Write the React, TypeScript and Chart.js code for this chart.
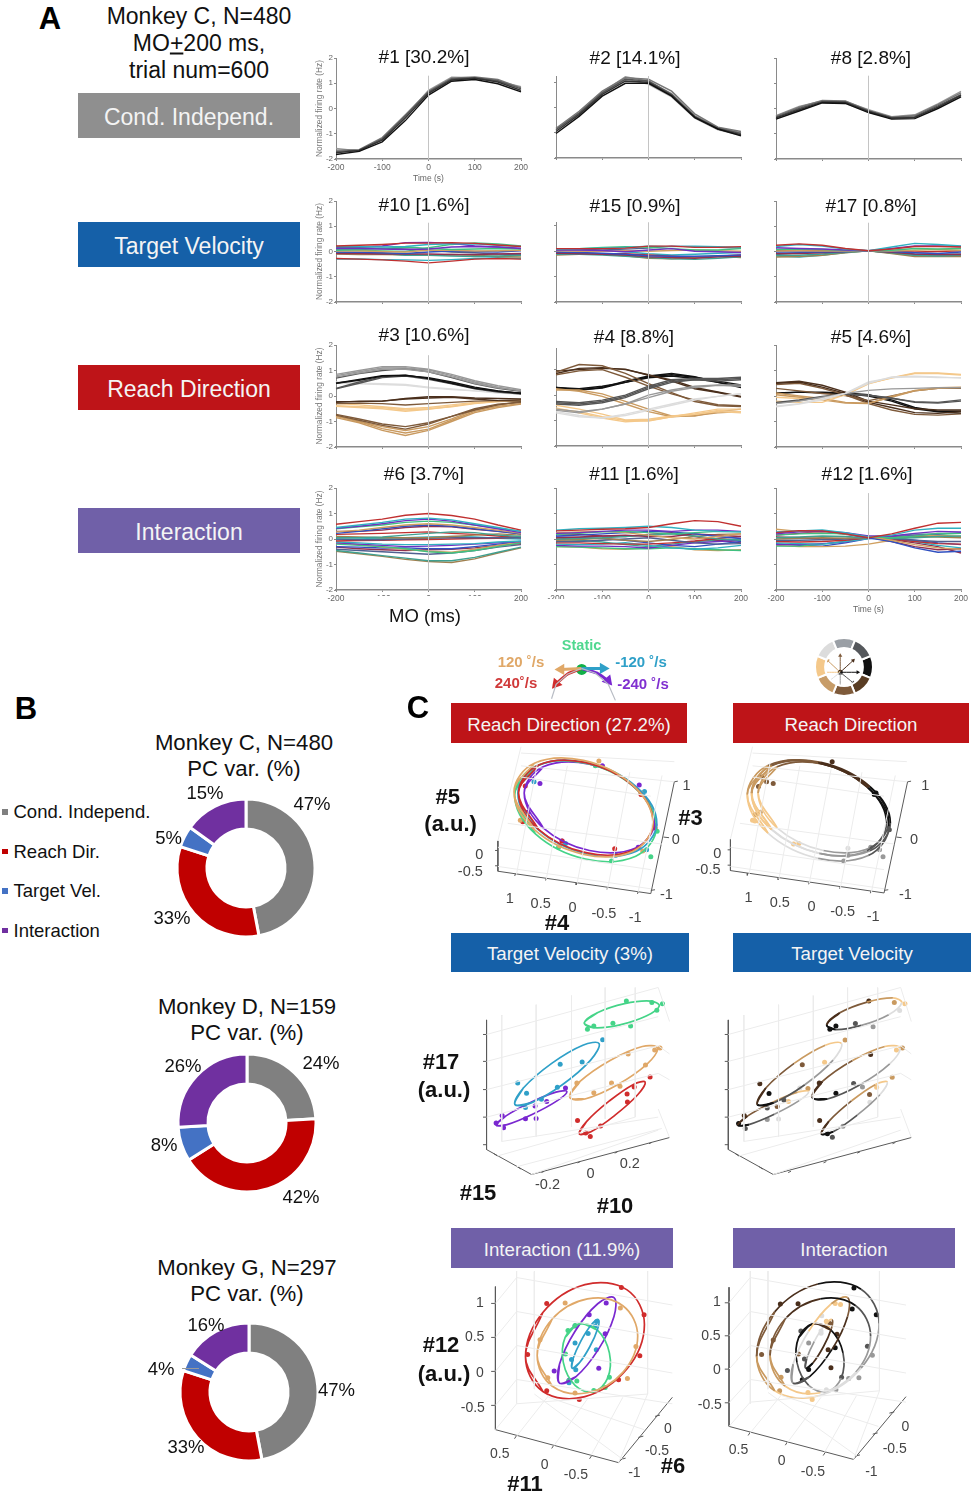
import React, { useEffect, useRef } from "react";
import { Chart, registerables } from "chart.js";
Chart.register(...registerables);

const FONT = "'Liberation Sans', Arial, sans-serif";

// ---------- Panel A data (normalized firing rate at each time point) ----------
const timePoints = [-200, -150, -100, -50, 0, 50, 100, 150, 200];
const greyShades = ["#111111", "#333333", "#555555", "#777777", "#999999", "#bbbbbb"];
const dirColors = ["#111111", "#555555", "#999999", "#dddddd", "#f4c88a", "#c99a60", "#7e5a3a", "#4a2f1c"];
const rainbow = ["#c03030", "#30b0c0", "#7030c0", "#40c080", "#d0a060", "#3050c0", "#903050", "#40a090", "#a08050", "#506090"];

const pc1 = [
  [-1.82, -1.7, -1.32, -0.48, 0.53, 1.08, 1.15, 0.98, 0.66],
  [-1.75, -1.66, -1.25, -0.38, 0.6, 1.13, 1.2, 1.05, 0.72],
  [-1.7, -1.65, -1.2, -0.3, 0.65, 1.17, 1.22, 1.1, 0.78],
  [-1.65, -1.63, -1.15, -0.25, 0.68, 1.2, 1.25, 1.15, 0.82],
  [-1.58, -1.68, -1.18, -0.3, 0.72, 1.24, 1.22, 1.08, 0.86],
  [-1.72, -1.7, -1.22, -0.35, 0.62, 1.15, 1.18, 1.12, 0.7],
];
const pc2 = [
  [-1.03, -0.35, 0.45, 0.96, 0.96, 0.45, -0.4, -0.85, -1.12],
  [-0.95, -0.28, 0.52, 1.05, 1.0, 0.48, -0.38, -0.85, -1.08],
  [-0.88, -0.22, 0.58, 1.12, 1.05, 0.52, -0.35, -0.82, -1.03],
  [-0.82, -0.15, 0.65, 1.18, 1.12, 0.65, -0.25, -0.78, -0.95],
  [-0.85, -0.2, 0.6, 1.22, 1.05, 0.55, -0.32, -0.8, -1.0],
  [-0.9, -0.25, 0.55, 1.15, 0.92, 0.42, -0.42, -0.88, -1.1],
];
const pc8 = [
  [-0.42, -0.1, 0.22, 0.2, -0.16, -0.42, -0.4, 0.0, 0.46],
  [-0.37, -0.05, 0.25, 0.24, -0.12, -0.38, -0.35, 0.05, 0.52],
  [-0.34, 0.0, 0.28, 0.26, -0.1, -0.36, -0.32, 0.1, 0.55],
  [-0.3, 0.05, 0.32, 0.3, -0.08, -0.34, -0.28, 0.15, 0.62],
  [-0.28, 0.08, 0.3, 0.28, -0.05, -0.32, -0.25, 0.18, 0.68],
  [-0.4, -0.08, 0.24, 0.2, -0.14, -0.4, -0.36, 0.04, 0.5],
];
const pc10 = [
  [0.22, 0.25, 0.28, 0.33, 0.33, 0.35, 0.32, 0.26, 0.2],
  [0.2, 0.2, 0.18, 0.2, 0.28, 0.3, 0.3, 0.25, 0.2],
  [0.12, 0.12, 0.1, 0.08, 0.1, 0.18, 0.2, 0.18, 0.12],
  [0.05, 0.08, 0.12, 0.18, 0.12, 0.08, 0.1, 0.12, 0.1],
  [0.02, 0.02, 0.0, -0.02, 0.05, 0.05, 0.02, 0.03, 0.05],
  [-0.02, -0.03, -0.05, -0.08, -0.02, 0.02, 0, -0.02, 0.03],
  [-0.08, -0.08, -0.1, -0.1, -0.1, -0.12, -0.12, -0.1, -0.08],
  [-0.05, -0.05, -0.08, -0.15, -0.15, -0.18, -0.2, -0.18, -0.15],
  [-0.1, -0.12, -0.12, -0.13, -0.15, -0.12, -0.15, -0.2, -0.22],
  [0.15, 0.15, 0.12, 0.1, 0.05, -0.02, -0.05, -0.1, -0.12],
  [-0.28, -0.3, -0.33, -0.38, -0.45, -0.38, -0.3, -0.28, -0.3],
  [-0.3, -0.3, -0.32, -0.33, -0.35, -0.32, -0.28, -0.25, -0.28],
  [0.18, 0.18, 0.22, 0.35, 0.36, 0.32, 0.22, 0.18, 0.12],
  [0.08, 0.05, 0.02, 0.0, 0.15, 0.28, 0.34, 0.3, 0.22],
];
const pc15 = [
  [0.1, 0.1, 0.1, 0.12, 0.2, 0.2, 0.15, 0.15, 0.18],
  [0.08, 0.1, 0.12, 0.15, 0.2, 0.18, 0.2, 0.18, 0.15],
  [0.05, 0.05, 0.03, -0.02, 0.05, 0.1, 0.0, -0.02, -0.05],
  [0.06, 0.1, 0.15, 0.18, 0.15, 0.1, 0.05, 0.05, 0.1],
  [0.02, 0.0, 0.0, 0.02, 0.0, 0.03, 0.05, 0.02, 0],
  [-0.03, -0.05, -0.08, -0.12, -0.18, -0.2, -0.2, -0.18, -0.15],
  [-0.08, -0.1, -0.12, -0.15, -0.22, -0.25, -0.28, -0.22, -0.2],
  [-0.12, -0.12, -0.15, -0.2, -0.25, -0.3, -0.32, -0.28, -0.22],
  [-0.15, -0.12, -0.12, -0.18, -0.28, -0.3, -0.25, -0.2, -0.25],
  [0.1, 0.08, 0.05, 0.08, 0.12, 0.2, 0.18, 0.15, 0.12],
  [-0.05, -0.08, -0.1, -0.1, -0.15, -0.2, -0.25, -0.2, -0.15],
  [0.02, 0.04, 0.02, -0.02, -0.1, -0.15, -0.12, -0.08, -0.05],
];
const pc17 = [
  [0.25, 0.3, 0.25, 0.12, 0.03, 0.1, 0.2, 0.2, 0.18],
  [0.2, 0.28, 0.22, 0.1, 0.03, 0.18, 0.32, 0.28, 0.22],
  [0.15, 0.12, 0.1, 0.06, 0.03, 0.12, 0.22, 0.22, 0.2],
  [0.08, 0.1, 0.08, 0.05, 0.03, 0.05, 0.12, 0.1, 0.12],
  [0.02, 0.03, 0.02, 0.02, 0.03, 0.02, 0.05, 0.08, 0.05],
  [-0.02, -0.02, -0.02, 0, 0.03, 0, -0.05, -0.08, -0.02],
  [-0.08, -0.08, -0.05, 0, 0.03, -0.03, -0.1, -0.12, -0.12],
  [-0.15, -0.15, -0.1, -0.03, 0.03, -0.05, -0.15, -0.18, -0.15],
  [-0.22, -0.2, -0.15, -0.05, 0.03, -0.08, -0.2, -0.2, -0.2],
  [-0.12, -0.05, -0.02, 0, 0.03, -0.05, -0.12, -0.12, -0.1],
  [0.05, 0.05, 0.05, 0.05, 0.03, 0.0, -0.02, 0.0, 0.03],
  [-0.18, -0.22, -0.15, -0.04, 0.03, -0.06, -0.15, -0.15, -0.15],
];
const pc3 = [
  [0.8, 0.95, 1.1, 1.1, 1.02, 0.8, 0.55, 0.35, 0.2],
  [0.85, 1.0, 1.15, 1.15, 1.05, 0.85, 0.6, 0.4, 0.25],
  [0.75, 0.9, 1.05, 1.05, 0.95, 0.75, 0.5, 0.32, 0.22],
  [0.7, 0.88, 1.0, 1.08, 0.95, 0.72, 0.48, 0.3, 0.18],
  [0.5, 0.62, 0.78, 0.8, 0.72, 0.55, 0.35, 0.2, 0.1],
  [0.5, 0.65, 0.8, 0.82, 0.68, 0.5, 0.3, 0.18, 0.12],
  [0.28, 0.5, 0.72, 0.78, 0.65, 0.48, 0.28, 0.15, 0.08],
  [0.3, 0.55, 0.75, 0.82, 0.7, 0.5, 0.32, 0.2, 0.1],
  [0.55, 0.5, 0.48, 0.45, 0.35, 0.28, 0.2, 0.15, 0.1],
  [0.5, 0.48, 0.45, 0.42, 0.32, 0.25, 0.2, 0.12, 0.08],
  [-0.22, -0.22, -0.2, -0.1, -0.03, -0.03, -0.08, -0.1, -0.12],
  [-0.25, -0.2, -0.2, -0.12, -0.08, -0.05, -0.12, -0.18, -0.2],
  [-0.3, -0.28, -0.3, -0.35, -0.3, -0.25, -0.2, -0.18, -0.15],
  [-0.38, -0.42, -0.45, -0.55, -0.5, -0.42, -0.3, -0.22, -0.2],
  [-0.4, -0.45, -0.5, -0.6, -0.52, -0.4, -0.28, -0.22, -0.15],
  [-0.3, -0.35, -0.42, -0.5, -0.45, -0.35, -0.25, -0.2, -0.18],
  [-0.72, -0.9, -1.1, -1.2, -1.05, -0.8, -0.5, -0.32, -0.25],
  [-0.75, -0.95, -1.15, -1.3, -1.1, -0.8, -0.55, -0.35, -0.22],
  [-0.78, -1, -1.28, -1.45, -1.3, -0.95, -0.6, -0.4, -0.3],
  [-0.85, -1.05, -1.35, -1.55, -1.35, -1, -0.65, -0.45, -0.32],
  [-0.8, -1, -1.2, -1.35, -1.2, -0.9, -0.55, -0.35, -0.25],
];
const pc3Dirs = [2, 2, 2, 1, 0, 0, 1, 1, 3, 3, 7, 7, 6, 4, 4, 4, 6, 6, 5, 5, 5];
const pc4 = [
  [-0.65, -0.8, -0.9, -0.75, -0.55, -0.35, -0.15, -0.05, 0.05],
  [-0.7, -0.85, -0.9, -0.8, -0.6, -0.4, -0.2, -0.05, 0.05],
  [-0.55, -0.65, -0.55, -0.35, -0.0, 0.2, 0.35, 0.4, 0.4],
  [-0.6, -0.7, -0.55, -0.35, -0.1, 0.15, 0.3, 0.38, 0.35],
  [-0.3, -0.35, -0.25, -0.05, 0.3, 0.55, 0.6, 0.6, 0.65],
  [-0.25, -0.3, -0.2, 0.0, 0.35, 0.6, 0.65, 0.65, 0.7],
  [-0.35, -0.4, -0.3, -0.1, 0.25, 0.5, 0.6, 0.55, 0.6],
  [-0.55, -0.65, -0.85, -1, -1.02, -0.85, -0.75, -0.6, -0.65],
  [-0.5, -0.7, -0.9, -1.05, -1, -0.85, -0.7, -0.55, -0.55],
  [-0.4, -0.55, -0.75, -0.98, -0.95, -0.82, -0.75, -0.65, -0.7],
  [0.2, 0.2, 0.05, -0.25, -0.55, -0.82, -0.82, -0.65, -0.55],
  [0.25, 0.15, -0.05, -0.35, -0.65, -0.85, -0.8, -0.7, -0.65],
  [0.9, 1.2, 1.15, 0.85, 0.45, 0.1, -0.25, -0.42, -0.45],
  [0.8, 0.95, 1.0, 0.7, 0.35, 0.05, -0.2, -0.38, -0.42],
  [0.85, 1.05, 1.08, 1.0, 0.8, 0.55, 0.25, 0.1, -0.08],
  [0.95, 1.0, 1.05, 1.02, 0.78, 0.6, 0.3, 0.12, -0.05],
  [0.3, 0.25, 0.35, 0.5, 0.72, 0.8, 0.7, 0.55, 0.4],
  [0.3, 0.2, 0.3, 0.55, 0.75, 0.85, 0.72, 0.5, 0.3],
  [0.28, 0.2, 0.28, 0.5, 0.68, 0.75, 0.65, 0.5, 0.35],
];
const pc4Dirs = [3, 3, 2, 2, 1, 1, 1, 4, 4, 4, 5, 5, 6, 6, 7, 7, 0, 0, 0];
const pc5 = [
  [-0.4, -0.3, -0.1, 0.1, 0.5, 0.75, 0.78, 0.75, 0.7],
  [-0.42, -0.32, -0.15, 0.1, 0.55, 0.72, 0.75, 0.72, 0.72],
  [-0.3, -0.2, -0.05, 0.1, 0.22, 0.28, 0.3, 0.33, 0.33],
  [-0.25, -0.15, -0.02, 0.08, 0.03, -0.1, -0.22, -0.25, -0.15],
  [-0.28, -0.18, -0.05, 0.08, 0.03, -0.08, -0.25, -0.28, -0.2],
  [-0.2, -0.25, -0.25, 0.05, 0.5, 0.7, 0.88, 0.88, 0.82],
  [-0.05, -0.1, -0.15, 0.05, 0.48, 0.72, 0.9, 0.9, 0.85],
  [0.12, 0.0, -0.1, -0.25, -0.28, -0.05, 0.2, 0.3, 0.33],
  [0.05, -0.05, -0.15, -0.28, -0.3, -0.02, 0.22, 0.33, 0.35],
  [0.3, 0.2, 0.1, 0.02, -0.18, 0.0, 0.2, 0.3, 0.3],
  [0.52, 0.58, 0.42, 0.15, -0.2, -0.35, -0.5, -0.55, -0.55],
  [0.5, 0.55, 0.35, 0.1, -0.25, -0.45, -0.65, -0.68, -0.62],
  [0.45, 0.5, 0.3, 0.05, -0.3, -0.55, -0.72, -0.75, -0.7],
  [0.12, 0.15, 0.15, 0.12, 0.05, -0.15, -0.45, -0.6, -0.6],
  [0.1, 0.15, 0.12, 0.1, 0.0, -0.2, -0.5, -0.62, -0.68],
];
const pc5Dirs = [3, 3, 2, 1, 1, 4, 4, 5, 5, 6, 7, 7, 6, 0, 0];
const pc6 = [
  [0.58, 0.68, 0.78, 0.93, 1.0, 0.92, 0.78, 0.55, 0.35],
  [0.45, 0.55, 0.65, 0.78, 0.82, 0.75, 0.6, 0.45, 0.3],
  [0.42, 0.5, 0.6, 0.72, 0.78, 0.7, 0.55, 0.4, 0.25],
  [0.4, 0.48, 0.55, 0.65, 0.7, 0.65, 0.55, 0.42, 0.3],
  [0.28, 0.35, 0.45, 0.55, 0.6, 0.55, 0.45, 0.35, 0.22],
  [0.22, 0.3, 0.4, 0.5, 0.55, 0.5, 0.4, 0.3, 0.2],
  [0.3, 0.3, 0.35, 0.45, 0.5, 0.48, 0.38, 0.3, 0.2],
  [0.05, 0.05, 0.08, 0.15, 0.22, 0.28, 0.25, 0.15, 0.1],
  [0.1, 0.08, 0.05, 0.05, 0.05, 0.1, 0.15, 0.2, 0.15],
  [0.0, -0.03, -0.03, 0.0, 0.03, 0.05, 0.05, 0.05, 0.05],
  [-0.08, -0.06, -0.05, -0.03, -0.02, 0, 0.02, 0.03, 0.08],
  [-0.12, -0.15, -0.2, -0.22, -0.22, -0.2, -0.18, -0.12, -0.08],
  [-0.15, -0.2, -0.25, -0.3, -0.28, -0.25, -0.2, -0.15, -0.1],
  [-0.2, -0.25, -0.3, -0.38, -0.5, -0.55, -0.45, -0.3, -0.15],
  [-0.15, -0.22, -0.32, -0.4, -0.48, -0.52, -0.4, -0.25, -0.12],
  [-0.3, -0.32, -0.35, -0.35, -0.38, -0.38, -0.3, -0.2, -0.12],
  [-0.32, -0.38, -0.42, -0.45, -0.42, -0.4, -0.35, -0.25, -0.18],
  [-0.45, -0.55, -0.65, -0.75, -0.85, -0.85, -0.72, -0.52, -0.32],
  [-0.48, -0.58, -0.68, -0.8, -0.88, -0.92, -0.78, -0.55, -0.35],
  [-0.4, -0.45, -0.5, -0.55, -0.6, -0.55, -0.45, -0.32, -0.22],
  [0.18, 0.2, 0.22, 0.25, 0.28, 0.22, 0.18, 0.12, 0.05],
  [-0.02, 0.0, 0.03, 0.05, 0.08, 0.1, 0.08, 0.03, 0],
];
const pc11 = [
  [0.32, 0.35, 0.38, 0.4, 0.45, 0.6, 0.72, 0.68, 0.5],
  [0.35, 0.4, 0.42, 0.45, 0.5, 0.45, 0.35, 0.3, 0.28],
  [0.22, 0.25, 0.3, 0.35, 0.35, 0.3, 0.35, 0.35, 0.3],
  [0.18, 0.22, 0.28, 0.3, 0.25, 0.2, 0.25, 0.3, 0.28],
  [0.25, 0.28, 0.3, 0.25, 0.15, 0.05, 0, 0.1, 0.2],
  [0.12, 0.15, 0.2, 0.25, 0.3, 0.28, 0.2, 0.1, 0.02],
  [0.05, 0.08, 0.12, 0.15, 0.1, 0.1, 0.2, 0.15, 0.1],
  [0.0, 0.03, 0.05, 0.1, 0.15, 0.2, 0.12, 0.0, -0.05],
  [-0.05, -0.02, 0.03, -0.05, -0.1, -0.02, 0.1, 0.18, 0.2],
  [-0.1, -0.1, -0.05, 0, 0.05, -0.05, -0.15, -0.2, -0.18],
  [-0.15, -0.15, -0.18, -0.2, -0.2, -0.15, -0.08, 0.02, 0.1],
  [-0.2, -0.22, -0.2, -0.15, -0.25, -0.35, -0.4, -0.35, -0.25],
  [-0.25, -0.28, -0.28, -0.3, -0.35, -0.25, -0.15, -0.1, -0.05],
  [-0.3, -0.32, -0.35, -0.38, -0.38, -0.35, -0.38, -0.42, -0.45],
  [-0.3, -0.32, -0.38, -0.4, -0.35, -0.3, -0.42, -0.45, -0.42],
  [0.08, 0.05, 0.02, -0.05, -0.15, -0.25, -0.3, -0.2, -0.1],
  [0.2, 0.18, 0.12, 0.1, 0.18, 0.25, 0.1, -0.05, -0.15],
  [-0.02, -0.05, -0.12, -0.22, -0.3, -0.2, -0.1, -0.05, 0],
];
const pc12 = [
  [0.25, 0.33, 0.32, 0.2, 0.05, 0.2, 0.42, 0.62, 0.65],
  [0.28, 0.32, 0.35, 0.25, 0.08, 0.15, 0.35, 0.42, 0.42],
  [0.2, 0.28, 0.3, 0.25, 0.12, 0.12, 0.22, 0.3, 0.28],
  [0.15, 0.2, 0.22, 0.2, 0.1, 0.05, 0.12, 0.22, 0.22],
  [0.38, 0.3, 0.25, 0.2, 0.1, -0.05, -0.22, -0.35, -0.4],
  [0.25, 0.3, 0.32, 0.2, 0.05, -0.1, -0.35, -0.52, -0.48],
  [0.15, 0.22, 0.3, 0.18, 0.08, -0.1, -0.3, -0.42, -0.38],
  [0.05, 0.08, 0.12, 0.1, 0.05, 0.02, 0.05, 0.1, 0.12],
  [0, 0.03, 0.05, 0.03, 0.05, 0.05, 0.1, 0.08, 0.05],
  [-0.05, -0.05, -0.03, 0, 0.05, 0.02, -0.05, -0.1, -0.1],
  [-0.1, -0.12, -0.1, -0.05, 0.05, 0, -0.1, -0.18, -0.2],
  [-0.15, -0.18, -0.2, -0.1, 0.02, 0.03, -0.1, -0.25, -0.35],
  [-0.22, -0.22, -0.18, -0.12, 0.05, 0.08, 0.15, 0.2, 0.25],
  [-0.28, -0.28, -0.2, -0.1, 0.03, 0.1, 0.2, 0.18, 0.22],
  [-0.25, -0.3, -0.3, -0.28, -0.2, -0.05, 0.12, 0.15, 0.1],
  [-0.18, -0.25, -0.28, -0.15, 0.02, 0.05, -0.05, -0.15, -0.22],
  [0.08, 0.05, 0.0, 0.02, 0.05, -0.02, -0.15, -0.3, -0.55],
];

// ---------- Panel B data ----------
const donutLabels = ["Cond. Independ.", "Reach Dir.", "Target Vel.", "Interaction"];
const donutColors = ["#808080", "#c00000", "#4472c4", "#7030a0"];
const monkeyC = [47, 33, 5, 15];
const monkeyD = [24, 42, 8, 26];
const monkeyG = [47, 33, 4, 16];

// ---------- Panel C data: points read in the projected plane of each 3-D view ----------
type P = number[];
const velColors = ["#e0a868", "#d02c2c", "#2fa0c8", "#45d488", "#7a28d0"];

const reachLeft: P[][] = [
  [[278, 486], [336, 397], [476, 388], [616, 465], [674, 584], [616, 673], [476, 682], [336, 605]],
  [[291, 489], [347, 403], [483, 395], [619, 469], [675, 583], [619, 669], [483, 677], [347, 603]],
  [[289, 491], [347, 404], [487, 395], [627, 471], [685, 585], [627, 672], [487, 681], [347, 605]],
  [[280, 497], [339, 406], [482, 397], [625, 476], [684, 597], [625, 688], [482, 697], [339, 618]],
  [[307, 490], [361, 408], [493, 400], [625, 471], [679, 580], [625, 662], [493, 670], [361, 599]],
];
const reachLeftDots: P[][] = [
  [[520, 390], [322, 440], [296, 575], [408, 655], [645, 672], [640, 490]],
  [[310, 468], [640, 495], [303, 580], [415, 640], [565, 665], [680, 600]],
  [[335, 455], [650, 485], [302, 558], [425, 648], [568, 685], [656, 668]],
  [[510, 405], [300, 575], [405, 660], [556, 703], [668, 690], [686, 610]],
  [[352, 460], [530, 405], [635, 465], [317, 550], [415, 640], [632, 660], [680, 590]],
];
const reachRight: P[][] = [
  [[943, 495], [1002, 404], [1145, 395], [1288, 474], [1347, 595], [1288, 686], [1145, 695], [1002, 616]],
  [[956, 491], [1012, 405], [1148, 397], [1284, 471], [1340, 585], [1284, 671], [1148, 679], [1012, 605]],
  [[955, 490], [1013, 403], [1153, 394], [1293, 470], [1351, 584], [1293, 671], [1153, 680], [1013, 604]],
  [[974, 490], [1028, 408], [1160, 400], [1292, 471], [1346, 580], [1292, 662], [1160, 670], [1028, 599]],
];
const reachRightDirs = [5, 6, 7, 0, 1, 2, 3, 4];
const reachRightDots: P[] = [
  [1185, 392, 7], [985, 440, 6], [975, 470, 6], [998, 455, 6], [1017, 460, 6], [966, 558, 5], [980, 550, 5],
  [958, 575, 4], [965, 578, 4], [1075, 650, 4], [1090, 648, 4], [1230, 663, 3], [1230, 685, 2], [1320, 668, 2],
  [1330, 690, 2], [1218, 703, 2], [1305, 495, 0], [1310, 490, 0], [1348, 605, 1], [1295, 660, 2],
];

const targetLeft: P[][] = [
  [[440, 504], [469, 455], [554, 390], [645, 347], [688, 352], [659, 401], [574, 466], [483, 509]],
  [[467, 617], [488, 578], [552, 515], [620, 464], [653, 457], [632, 496], [568, 559], [500, 610]],
  [[285, 526], [309, 475], [389, 399], [477, 343], [523, 338], [499, 389], [419, 465], [331, 521]],
  [[481, 274], [518, 243], [595, 215], [668, 207], [693, 222], [656, 253], [579, 281], [506, 289]],
  [[232, 590], [259, 562], [329, 520], [401, 488], [432, 486], [405, 514], [335, 556], [263, 588]],
];
const targetLeftDots: P[][] = [
  [[460, 460], [508, 490], [558, 460], [582, 470], [605, 370], [654, 404], [680, 358], [695, 352]],
  [[462, 575], [485, 614], [498, 625], [527, 592], [603, 518], [602, 494], [622, 472], [667, 441]],
  [[293, 460], [318, 491], [315, 535], [360, 510], [405, 473], [413, 402], [475, 395], [533, 326]],
  [[490, 294], [508, 284], [562, 275], [612, 284], [600, 207], [672, 211], [702, 215], [686, 235]],
  [[249, 560], [232, 583], [253, 598], [315, 570], [345, 569], [342, 531], [375, 517], [428, 475]],
];
const targetRight: P[][] = [
  [[1166, 280], [1203, 243], [1280, 210], [1353, 197], [1378, 212], [1341, 249], [1264, 282], [1191, 295]],
  [[970, 526], [994, 475], [1074, 399], [1162, 343], [1208, 338], [1184, 389], [1104, 465], [1016, 521]],
  [[1125, 504], [1154, 455], [1239, 390], [1330, 347], [1373, 352], [1344, 401], [1259, 466], [1168, 509]],
  [[1151, 617], [1172, 578], [1236, 515], [1304, 464], [1337, 457], [1316, 496], [1252, 559], [1184, 610]],
  [[915, 590], [942, 562], [1012, 520], [1084, 488], [1115, 486], [1088, 514], [1018, 556], [946, 588]],
];
const targetRightDirs = [7, 6, 5, 4, 3, 2, 1, 0];
const targetRightDots: P[] = [
  [1192, 284, 0], [1247, 276, 1], [1297, 286, 2], [1175, 294, 0], [1285, 207, 7], [1357, 211, 5], [1387, 215, 4], [1372, 236, 3],
  [977, 462, 7], [1003, 492, 0], [998, 537, 1], [1045, 512, 1], [1090, 475, 3], [1097, 403, 6], [1160, 396, 4], [1218, 327, 5],
  [1145, 460, 7], [1192, 491, 0], [1242, 461, 1], [1267, 472, 2], [1290, 372, 7], [1363, 358, 4], [1380, 352, 5],
  [1146, 575, 7], [1168, 616, 0], [1182, 627, 1], [1212, 593, 2], [1288, 519, 3], [1287, 495, 6], [1307, 473, 4], [1351, 442, 5],
  [933, 560, 7], [917, 585, 0], [936, 600, 1], [998, 572, 2], [1030, 571, 3], [1026, 532, 6], [1058, 517, 4], [1113, 477, 5],
];

const interLeft: P[][] = [
  [[348, 391], [390, 279], [490, 216], [590, 237], [632, 331], [590, 443], [490, 506], [390, 485]],
  [[315, 395], [364, 258], [483, 172], [602, 188], [651, 295], [602, 432], [483, 518], [364, 502]],
  [[447, 430], [449, 402], [471, 347], [501, 296], [521, 280], [519, 308], [497, 363], [467, 414]],
  [[467, 293], [519, 313], [552, 383], [547, 461], [507, 503], [455, 483], [422, 413], [427, 335]],
  [[411, 476], [411, 418], [455, 316], [519, 231], [565, 212], [565, 270], [521, 372], [457, 457]],
];
const interLeftDots: P[][] = [
  [[356, 342], [427, 229], [583, 244], [627, 363], [603, 462], [455, 507], [378, 460]],
  [[321, 388], [375, 230], [586, 181], [650, 265], [638, 392], [578, 466], [467, 527], [375, 500]],
  [[457, 435], [445, 403], [455, 352], [492, 323], [515, 373], [512, 300], [516, 286], [438, 475]],
  [[428, 386], [435, 314], [455, 298], [552, 458], [540, 490], [508, 499], [437, 470], [460, 470]],
  [[396, 439], [438, 467], [522, 430], [540, 324], [495, 265], [543, 229], [455, 300]],
];
const interRight: P[][] = [
  [[968, 393], [1019, 256], [1141, 170], [1263, 186], [1314, 293], [1263, 430], [1141, 516], [1019, 500]],
  [[1006, 391], [1048, 279], [1148, 216], [1248, 237], [1290, 331], [1248, 443], [1148, 506], [1048, 485]],
  [[1071, 476], [1071, 418], [1115, 316], [1179, 231], [1225, 212], [1225, 270], [1181, 372], [1117, 457]],
  [[1127, 293], [1179, 313], [1212, 383], [1207, 461], [1167, 503], [1115, 483], [1082, 413], [1087, 335]],
  [[1107, 430], [1109, 402], [1131, 347], [1161, 296], [1181, 280], [1179, 308], [1157, 363], [1127, 414]],
];
const interRightDirs = [
  [6, 7, 0, 1, 2, 3, 4, 5],
  [6, 7, 0, 1, 2, 3, 4, 5],
  [2, 3, 4, 5, 6, 7, 0, 1],
  [7, 0, 1, 2, 2, 1, 0, 0],
  [1, 2, 3, 4, 6, 7, 7, 0],
];
const interRightDots: P[] = [
  [982, 388, 6], [1035, 232, 7], [1243, 182, 0], [1306, 265, 0], [1281, 362, 1], [1257, 460, 2], [1015, 343, 6], [1085, 231, 7],
  [1238, 247, 0], [1208, 458, 1], [1295, 390, 2], [1037, 458, 5], [1033, 500, 5], [1113, 505, 4], [1125, 527, 4], [1165, 497, 3],
  [1192, 497, 2], [1228, 462, 2], [1055, 437, 1], [1097, 466, 0], [1115, 434, 0], [1178, 429, 7], [1103, 402, 1], [1086, 386, 6],
  [1115, 352, 2], [1093, 315, 1], [1152, 268, 3], [1150, 322, 3], [1170, 373, 7], [1190, 367, 0], [1195, 325, 7], [1175, 292, 6],
  [1165, 285, 4], [1168, 303, 4], [1205, 233, 4], [1190, 230, 4], [1150, 315, 3],
];

// 3-D box lines, [x1, y1, x2, y2]
const reachGrid: P[] = [
  [232, 640, 298, 345], [298, 365, 735, 392], [298, 405, 735, 455], [298, 440, 668, 500], [232, 720, 668, 790],
  [285, 745, 345, 395], [370, 760, 430, 405], [458, 772, 520, 415], [545, 790, 608, 425], [632, 800, 700, 435],
  [232, 660, 668, 730], [260, 585, 700, 650],
];
const reachAxes: P[] = [
  [232, 640, 232, 735], [232, 735, 668, 805], [668, 805, 735, 455],
  [282, 743, 280, 750], [370, 757, 368, 764], [457, 771, 455, 778], [545, 785, 543, 792], [632, 799, 630, 806],
  [720, 630, 704, 628], [735, 455, 745, 453], [668, 795, 680, 793], [232, 670, 224, 670], [232, 718, 224, 718],
];
const reachGridR: P[] = [
  [895, 635, 958, 345], [958, 365, 1398, 392], [958, 405, 1398, 455], [958, 440, 1333, 500], [895, 720, 1333, 790],
  [948, 745, 1008, 395], [1033, 760, 1093, 405], [1120, 772, 1182, 415], [1208, 790, 1270, 425], [1297, 800, 1365, 435],
  [895, 660, 1333, 730], [922, 585, 1362, 650],
];
const reachAxesR: P[] = [
  [895, 635, 895, 733], [895, 733, 1333, 803], [1333, 803, 1400, 455],
  [945, 741, 943, 748], [1033, 755, 1031, 762], [1120, 769, 1118, 776], [1208, 783, 1206, 790], [1296, 797, 1294, 804],
  [1383, 630, 1368, 628], [1400, 455, 1410, 453], [1333, 795, 1345, 793], [895, 668, 887, 668], [895, 716, 887, 716],
];
const targetGrid: P[] = [
  [248, 250, 248, 640], [345, 218, 345, 625], [445, 190, 445, 595], [540, 165, 540, 570], [625, 165, 625, 565],
  [205, 310, 690, 165], [205, 393, 690, 255], [205, 480, 690, 345], [205, 565, 690, 430],
  [690, 165, 722, 270], [690, 345, 722, 370], [690, 430, 722, 450], [690, 540, 722, 628], [248, 640, 690, 565],
  [332, 742, 690, 605], [235, 685, 625, 565], [290, 718, 700, 600],
];
const targetAxes: P[] = [
  [205, 265, 205, 665], [205, 665, 332, 742], [332, 742, 722, 628],
  [205, 310, 195, 310], [205, 393, 195, 393], [205, 480, 195, 480], [205, 565, 195, 565], [205, 650, 195, 650],
  [226, 678, 236, 685], [292, 718, 302, 725], [368, 732, 360, 736], [470, 702, 462, 706], [575, 672, 567, 676], [672, 643, 664, 647],
];
const targetGridR: P[] = [
  [932, 250, 932, 640], [1030, 218, 1030, 625], [1128, 190, 1128, 595], [1225, 165, 1225, 570], [1310, 165, 1310, 565],
  [888, 310, 1375, 165], [888, 393, 1375, 255], [888, 480, 1375, 345], [888, 565, 1375, 430],
  [1375, 165, 1405, 270], [1375, 345, 1405, 370], [1375, 430, 1405, 450], [1375, 540, 1405, 628], [932, 640, 1375, 565],
  [1015, 742, 1375, 605], [918, 685, 1310, 565],
];
const targetAxesR: P[] = [
  [888, 265, 888, 665], [888, 665, 1015, 742], [1015, 742, 1405, 628],
  [888, 310, 878, 310], [888, 393, 878, 393], [888, 480, 878, 480], [888, 565, 878, 565], [888, 650, 878, 650],
  [908, 678, 918, 685], [975, 718, 985, 725], [1065, 732, 1057, 736], [1165, 702, 1157, 706], [1260, 672, 1252, 676], [1360, 643, 1352, 647],
];
const interGrid: P[] = [
  [290, 130, 290, 540], [340, 130, 340, 495], [660, 130, 660, 510], [230, 230, 290, 150], [290, 150, 730, 235],
  [230, 335, 290, 255], [290, 255, 730, 340], [230, 440, 290, 360], [290, 360, 730, 445], [230, 545, 290, 465], [290, 465, 730, 540],
  [230, 620, 290, 540], [290, 540, 660, 510], [660, 510, 578, 722], [290, 640, 380, 515], [395, 670, 490, 525], [500, 700, 590, 520],
  [590, 712, 340, 510], [650, 620, 380, 520],
];
const interAxes: P[] = [
  [230, 178, 230, 620], [230, 620, 578, 722], [578, 722, 730, 520],
  [230, 230, 218, 230], [230, 335, 218, 335], [230, 440, 218, 440], [230, 545, 218, 545],
  [290, 638, 284, 648], [395, 668, 389, 678], [502, 700, 496, 710], [598, 708, 584, 712], [648, 640, 634, 644], [695, 575, 681, 579],
];
const interGridR: P[] = [
  [950, 130, 950, 540], [1000, 130, 1000, 495], [1315, 130, 1315, 500], [890, 228, 950, 150], [950, 150, 1390, 235],
  [890, 330, 950, 255], [950, 255, 1390, 340], [890, 433, 950, 360], [950, 360, 1390, 445], [890, 537, 950, 465], [950, 465, 1390, 535],
  [890, 610, 950, 535], [950, 535, 1315, 500], [1315, 500, 1242, 712], [950, 630, 1040, 510], [1055, 660, 1150, 520], [1160, 690, 1250, 515],
  [1252, 702, 1000, 505], [1312, 610, 1040, 515],
];
const interAxesR: P[] = [
  [890, 180, 890, 610], [890, 610, 1242, 712], [1242, 712, 1390, 518],
  [890, 228, 878, 228], [890, 330, 878, 330], [890, 433, 878, 433], [890, 537, 878, 537],
  [950, 628, 944, 638], [1055, 658, 1049, 668], [1162, 690, 1156, 700], [1260, 698, 1246, 702], [1310, 630, 1296, 634], [1357, 565, 1343, 569],
];

// Legend icons above panel C
const arcLeft: P[] = [[385, 195], [398, 150], [430, 118], [470, 100]];
const arcRight: P[] = [[470, 100], [510, 115], [547, 150], [567, 200]];
const arrowTan: P[] = [[470, 100], [412, 103]];
const arrowTeal: P[] = [[470, 100], [532, 100]];
const arrowRed: P[] = [[470, 100], [430, 118], [398, 148]];
const arrowPurple: P[] = [[470, 100], [515, 115], [546, 138]];
const arrowRot = [-90, 90, 220, 140];
const wheelSpokes: P[] = [[1258, 112], [1245, 145], [1208, 165], [1170, 145], [1160, 112], [1172, 75], [1208, 60], [1245, 75]];
const wheelCentre = [1208, 112];
const wheelRot = [90, 135, 180, 225, 270, 315, 0, 45];
const wheelSlices = [1, 1, 1, 1, 1, 1, 1, 1];
const wheelColors = ["#111111", "#5a3d24", "#7e5a3a", "#c79c68", "#f4c88a", "#dcdcdc", "#9a9fa5", "#55585c"];

// ---------- Generic canvas ----------
function Canvas({ make, left, top, width, height, z }: any) {
  const ref = useRef<HTMLCanvasElement>(null);
  useEffect(() => {
    const chart = new Chart(ref.current as HTMLCanvasElement, make());
    return () => chart.destroy();
  }, []);
  return (
    <canvas ref={ref} width={width} height={height}
      style={{ position: "absolute", left, top, width, height, display: "block", zIndex: z || 1 }} />
  );
}

// ---------- Panel A ----------
const PAD_L = 21, PAD_T = 6, PAD_R = 12, PAD_B = 25;
function FiringPlot({ x0, x1, yTop, yBot, lines, colors, yMax = 2, stemTop, yLabels, xLabels, xTitle }: any) {
  const unit = (yBot - yTop) / 4;
  const areaTop = yBot - (yMax + 2) * unit;
  const width = Math.round(x1 - x0 + PAD_L + PAD_R);
  const height = Math.round(yBot - areaTop + PAD_T + PAD_B);
  const make = () => ({
    type: "line",
    data: {
      datasets: [
        { data: [{ x: 0, y: -2 }, { x: 0, y: stemTop }], borderColor: "#c4c4c4", borderWidth: 1, pointRadius: 0 },
        ...lines.map((ln: number[], i: number) => ({
          data: ln.map((v, k) => ({ x: timePoints[k], y: v })),
          borderColor: colors[i % colors.length],
          borderWidth: 1.4,
          pointRadius: 0,
          tension: 0,
          clip: false,
        })),
      ],
    },
    options: {
      animation: false, responsive: false, events: [],
      layout: { padding: { top: PAD_T, right: PAD_R, left: 0, bottom: 0 } },
      plugins: { legend: { display: false }, tooltip: { enabled: false } },
      scales: {
        x: {
          type: "linear", min: -200, max: 200,
          afterFit: (s: any) => { s.height = PAD_B; },
          border: { color: "#8a8a8a", width: 1.5 },
          grid: { drawOnChartArea: false, tickLength: 2, color: "#8a8a8a" },
          ticks: { stepSize: 100, display: !!xLabels, autoSkip: false, maxRotation: 0, padding: 2, color: "#666", font: { family: FONT, size: 8.5 } },
          title: { display: !!xTitle, text: "Time (s)", color: "#666", font: { family: FONT, size: 8.5 }, padding: { top: 1, bottom: 0 } },
        },
        y: {
          type: "linear", min: -2, max: yMax,
          afterFit: (s: any) => { s.width = PAD_L; },
          border: { color: "#8a8a8a", width: 1 },
          grid: { drawOnChartArea: false, tickLength: 2, color: "#8a8a8a" },
          ticks: { stepSize: 1, includeBounds: false, display: !!yLabels, padding: 1, color: "#666", font: { family: FONT, size: 8 } },
          title: { display: !!yLabels, text: "Normalized firing rate (Hz)", color: "#777", font: { family: FONT, size: 8.3 }, padding: { top: 0, bottom: 0 } },
        },
      },
    },
  });
  return <Canvas make={make} left={x0 - PAD_L} top={Math.round(areaTop) - PAD_T} width={width} height={height} />;
}

// ---------- Panel B ----------
function Donut({ cx, cy, values, colors, radius, cut, rotation = 0, border = 3, z }: any) {
  const size = Math.ceil(radius * 2 + 10);
  const make = () => ({
    type: "doughnut",
    data: { labels: donutLabels, datasets: [{ data: values, backgroundColor: colors, borderColor: "#fff", borderWidth: border, borderAlign: "center" }] },
    options: {
      animation: false, responsive: false, events: [], rotation,
      radius, cutout: cut,
      plugins: { legend: { display: false }, tooltip: { enabled: false } },
    },
  });
  return <Canvas make={make} left={cx - size / 2} top={cy - size / 2} width={size} height={size} z={z} />;
}

// ---------- Panel C ----------
const segs = (list: P[]) => {
  const out: any[] = [];
  list.forEach(([a, b, c, d]) => out.push({ x: a, y: b }, { x: c, y: d }, { x: NaN, y: NaN }));
  return out;
};
const closed = (pts: P[]) => {
  const n = pts.length;
  return [pts[n - 1], ...pts, pts[0], pts[1]].map(([x, y]) => ({ x, y }));
};
const lineSet = (data: any[], color: string, w: number) => ({
  data, showLine: true, borderColor: color, borderWidth: w, pointRadius: 0, spanGaps: false, tension: 0,
});
const ellipseSet = (pts: P[], color: string) => ({
  data: closed(pts), showLine: true, borderColor: color, borderWidth: 1.7, pointRadius: 0, tension: 0.375,
});
const gradientEllipse = (pts: P[], dirs: number[]) => {
  const n = pts.length;
  return {
    data: closed(pts), showLine: true, borderWidth: 1.7, pointRadius: 0, tension: 0.375, borderColor: dirColors[dirs[0]],
    segment: {
      borderColor: (c: any) => dirColors[dirs[(c.p0DataIndex - 1 + n) % n]],
    },
  };
};
const dotsSet = (pts: P[], color: string) => ({
  data: pts.map(([x, y]) => ({ x, y })), showLine: false, pointRadius: 2.5, pointBorderWidth: 0, pointBackgroundColor: color,
});
const dirDotsSet = (pts: P[]) => ({
  data: pts.map(([x, y]) => ({ x, y })), showLine: false, pointRadius: 2.5, pointBorderWidth: 0,
  pointBackgroundColor: pts.map((p) => dirColors[p[2]]),
});

const ZX = 1568, PX = 410, PW = 563;
function Plane({ top, height, zh, datasets }: any) {
  const make = () => ({
    type: "scatter",
    data: { datasets },
    options: {
      animation: false, responsive: false, events: [],
      layout: { padding: 0 },
      plugins: { legend: { display: false }, tooltip: { enabled: false } },
      scales: {
        x: { type: "linear", min: 0, max: ZX, display: false },
        y: { type: "linear", min: 0, max: zh, reverse: true, display: false },
      },
    },
  });
  return <Canvas make={make} left={PX} top={top} width={PW} height={height} />;
}

function view(grid: P[], axes: P[], ells: any[], dots: any[]) {
  return [lineSet(segs(grid), "#ececec", 1), lineSet(segs(axes), "#5a5a5a", 1), ...ells, ...dots];
}
const arrow = (pts: P[], color: string, rot: number, w = 3, head = 6.5) => ({
  data: pts.map(([x, y]) => ({ x, y })), showLine: true, borderColor: color, borderWidth: w, tension: 0.2,
  pointStyle: "triangle", pointBorderWidth: 0, pointBackgroundColor: color,
  pointRadius: pts.map((_, i) => (i === pts.length - 1 ? head : 0)),
  pointRotation: rot,
});

// ---------- Text ----------
function T({ x, y, s, size, bold, color }: any) {
  return (
    <div style={{
      position: "absolute", left: x, top: y, transform: "translate(-50%,-50%)", whiteSpace: "nowrap",
      fontFamily: FONT, fontSize: size, fontWeight: bold ? 700 : 400, color: color || "#111", zIndex: 5, lineHeight: 1,
    }}>{s}</div>
  );
}
function Bar({ x, y, w, h, bg, s, size = 18.7 }: any) {
  return (
    <div style={{
      position: "absolute", left: x, top: y, width: w, height: h, boxSizing: "border-box", paddingTop: 3, background: bg, color: "#f4f4f4", zIndex: 4,
      display: "flex", alignItems: "center", justifyContent: "center", fontFamily: FONT, fontSize: size,
    }}>{s}</div>
  );
}

// tick labels in the same projected plane as the views: [text, x, y]
const mx = (zx: number) => PX + (zx * PW) / ZX;
const reachTicks: any[] = [["1", 770, 465], ["0", 740, 628], ["-1", 714, 792], ["0", 193, 672], ["-0.5", 168, 722], ["1", 278, 803], ["0.5", 364, 820], ["0", 453, 832], ["-0.5", 540, 848], ["-1", 627, 860],
  ["1", 1435, 465], ["0", 1404, 628], ["-1", 1380, 792], ["0", 856, 670], ["-0.5", 830, 718], ["1", 943, 800], ["0.5", 1030, 815], ["0", 1118, 828], ["-0.5", 1205, 843], ["-1", 1290, 857]];
const targetTicks: any[] = [["-0.2", 383, 762], ["0", 503, 730], ["0.2", 612, 698]];
const interTicks: any[] = [["1", 195, 230], ["0.5", 180, 333], ["0", 195, 440], ["-0.5", 175, 545], ["0.5", 250, 685], ["0", 375, 716], ["-0.5", 462, 748], ["-1", 625, 740], ["-0.5", 688, 675], ["0", 718, 608],
  ["1", 855, 228], ["0.5", 838, 330], ["0", 855, 433], ["-0.5", 835, 537], ["0.5", 915, 673], ["0", 1035, 705], ["-0.5", 1122, 737], ["-1", 1285, 737], ["-0.5", 1350, 670], ["0", 1380, 603]];

const panelA = [
  { title: "#1 [30.2%]", tx: 424, ty: 56, col: 0, row: 0, lines: pc1, colors: greyShades, stem: 1.3, xLabels: true, xTitle: true },
  { title: "#2 [14.1%]", tx: 635, ty: 57, col: 1, row: 0, lines: pc2, colors: greyShades, stem: 1.3, yMax: 1.25 },
  { title: "#8 [2.8%]", tx: 871, ty: 57, col: 2, row: 0, lines: pc8, colors: greyShades, stem: 1.3 },
  { title: "#10 [1.6%]", tx: 424, ty: 204, col: 0, row: 1, lines: pc10, colors: rainbow, stem: 1.14 },
  { title: "#15 [0.9%]", tx: 635, ty: 205, col: 1, row: 1, lines: pc15, colors: rainbow, stem: 1.14, yMax: 1.15 },
  { title: "#17 [0.8%]", tx: 871, ty: 205, col: 2, row: 1, lines: pc17, colors: rainbow, stem: 1.14 },
  { title: "#3 [10.6%]", tx: 424, ty: 334, col: 0, row: 2, lines: pc3, colors: pc3Dirs.map((d) => dirColors[d]), stem: 1.6 },
  { title: "#4 [8.8%]", tx: 634, ty: 336, col: 1, row: 2, lines: pc4, colors: pc4Dirs.map((d) => dirColors[d]), stem: 1.6, yMax: 1.85 },
  { title: "#5 [4.6%]", tx: 871, ty: 336, col: 2, row: 2, lines: pc5, colors: pc5Dirs.map((d) => dirColors[d]), stem: 1.6 },
  { title: "#6 [3.7%]", tx: 424, ty: 473, col: 0, row: 3, lines: pc6, colors: rainbow, stem: 1.8, xLabels: true },
  { title: "#11 [1.6%]", tx: 634, ty: 473, col: 1, row: 3, lines: pc11, colors: rainbow, stem: 1.8, xLabels: true },
  { title: "#12 [1.6%]", tx: 867, ty: 473, col: 2, row: 3, lines: pc12, colors: rainbow, stem: 1.8, xLabels: true, xTitle: true },
];
const colX = [[336, 521], [556, 741], [775.5, 960]];
const rowY = [[57.5, 158.5], [201, 302], [344.5, 446], [488, 590]];

export default function App() {
  const reachSets = view(reachGrid, reachAxes,
    reachLeft.map((p, i) => ellipseSet(p, velColors[i])), reachLeftDots.map((p, i) => dotsSet(p, velColors[i])));
  const reachSetsR = view(reachGridR, reachAxesR,
    reachRight.map((p) => gradientEllipse(p, reachRightDirs)), [dirDotsSet(reachRightDots)]);
  const icons = [
    lineSet(arcLeft.map(([x, y]) => ({ x, y })), "#b8bcc4", 1.2), lineSet(arcRight.map(([x, y]) => ({ x, y })), "#b8bcc4", 1.2),
    arrow(arrowTan, velColors[0], arrowRot[0]), arrow(arrowTeal, velColors[2], arrowRot[1]),
    arrow(arrowRed, velColors[1], arrowRot[2]), arrow(arrowPurple, velColors[4], arrowRot[3]),
    dotsSet([[471, 103]], "#12b048"),
    ...wheelSpokes.map((p, i) => arrow([wheelCentre, p], dirColors[i], wheelRot[i], 1, 2.4)),
    dotsSet([wheelCentre], "#111"),
  ];
  icons[6] = { ...icons[6], pointRadius: 5.5 } as any;
  const targetSets = view(targetGrid, targetAxes,
    targetLeft.map((p, i) => ellipseSet(p, velColors[i])), targetLeftDots.map((p, i) => dotsSet(p, velColors[i])));
  const targetSetsR = view(targetGridR, targetAxesR,
    targetRight.map((p) => gradientEllipse(p, targetRightDirs)), [dirDotsSet(targetRightDots)]);
  const interSets = view(interGrid, interAxes,
    interLeft.map((p, i) => ellipseSet(p, velColors[i])), interLeftDots.map((p, i) => dotsSet(p, velColors[i])));
  const interSetsR = view(interGridR, interAxesR,
    interRight.map((p, i) => gradientEllipse(p, interRightDirs[i])), [dirDotsSet(interRightDots)]);

  return (
    <div style={{ position: "absolute", left: 0, top: 0, width: 973, height: 1500, background: "#fff", overflow: "hidden" }}>
      <T x={50} y={18} s="A" size={31} bold color="#000" />
      <T x={199} y={15.5} s="Monkey C, N=480" size={23} />
      <T x={199} y={42.5} s={<span>MO<u>+</u>200 ms,</span>} size={23} />
      <T x={199} y={70} s="trial num=600" size={23} />
      <Bar x={78} y={93} w={222} h={45} bg="#8f8f8f" s="Cond. Independ." size={23} />
      <Bar x={78} y={222} w={222} h={45} bg="#1560a8" s="Target Velocity" size={23} />
      <Bar x={78} y={365} w={222} h={45} bg="#be1418" s="Reach Direction" size={23} />
      <Bar x={78} y={508} w={222} h={45} bg="#7060a8" s="Interaction" size={23} />

      {panelA.map((p: any) => (
        <React.Fragment key={p.title}>
          <FiringPlot x0={colX[p.col][0]} x1={colX[p.col][1]} yTop={rowY[p.row][0]} yBot={rowY[p.row][1]}
            lines={p.lines} colors={p.colors} yMax={p.yMax || 2} stemTop={p.stem}
            yLabels={p.col === 0} xLabels={p.xLabels} xTitle={p.xTitle} />
          <T x={p.tx} y={p.ty} s={p.title} size={19} />
        </React.Fragment>
      ))}
      <div style={{ position: "absolute", left: 355, top: 596, width: 145, height: 10, background: "#fff", zIndex: 3 }} />
      <div style={{ position: "absolute", left: 545, top: 599, width: 180, height: 10, background: "#fff", zIndex: 3 }} />
      <T x={425} y={616} s="MO (ms)" size={18.5} />

      <T x={26} y={708} s="B" size={31} bold color="#000" />
      {donutLabels.map((s, i) => (
        <React.Fragment key={s}>
          <div style={{ position: "absolute", left: 2, top: 809 + i * 39.5, width: 5.5, height: 5.5, background: donutColors[i], zIndex: 5 }} />
          <div style={{ position: "absolute", left: 13.5, top: 812 + i * 39.5, transform: "translateY(-50%)", fontFamily: FONT, fontSize: 18.5, lineHeight: 1, color: "#111", whiteSpace: "nowrap", zIndex: 5 }}>{s}</div>
        </React.Fragment>
      ))}
      <T x={244} y={743} s="Monkey C, N=480" size={22.2} />
      <T x={244} y={769} s="PC var. (%)" size={22.2} />
      <Donut cx={246} cy={867.5} values={monkeyC} colors={donutColors} radius={69} cut={41} />
      <T x={312} y={804} s="47%" size={18.5} />
      <T x={172} y={918} s="33%" size={18.5} />
      <T x={168.5} y={838} s="5%" size={18.5} />
      <T x={205} y={793} s="15%" size={18.5} />

      <T x={247} y={1007} s="Monkey D, N=159" size={22.2} />
      <T x={247} y={1033} s="PC var. (%)" size={22.2} />
      <Donut cx={246.5} cy={1123} values={monkeyD} colors={donutColors} radius={69} cut={41} />
      <T x={321} y={1063} s="24%" size={18.5} />
      <T x={183} y={1066} s="26%" size={18.5} />
      <T x={164} y={1145} s="8%" size={18.5} />
      <T x={301} y={1197} s="42%" size={18.5} />

      <T x={247} y={1268} s="Monkey G, N=297" size={22.2} />
      <T x={247} y={1294} s="PC var. (%)" size={22.2} />
      <Donut cx={249} cy={1391.5} values={monkeyG} colors={donutColors} radius={69} cut={41} />
      <T x={206} y={1325} s="16%" size={18.5} />
      <T x={161} y={1368.5} s="4%" size={18.5} />
      <T x={336.5} y={1389.5} s="47%" size={18.5} />
      <T x={186} y={1447} s="33%" size={18.5} />
      <div style={{ position: "absolute", left: 182, top: 1368, width: 17, height: 1, background: "#999", zIndex: 5 }} />

      <Plane top={630} height={310} zh={930} datasets={[...reachSets, ...reachSetsR, ...icons]} />
      <Plane top={930} height={290} zh={870} datasets={[...targetSets, ...targetSetsR]} />
      <Plane top={1225} height={275} zh={825} datasets={[...interSets, ...interSetsR]} />
      <Donut cx={843.8} cy={667} values={wheelSlices} colors={wheelColors} radius={29} cut={21.5} rotation={67.5} border={2} z={2} />

      <T x={418} y={707} s="C" size={31} bold color="#000" />
      <T x={581.6} y={645.3} s="Static" size={14.5} bold color="#4fd88f" />
      <T x={521} y={660.7} s="120 ˚/s" size={15} bold color="#e0a868" />
      <T x={516} y={681.7} s="240˚/s" size={15} bold color="#d03a3a" />
      <T x={641} y={660.7} s="-120 ˚/s" size={15} bold color="#2fa0c8" />
      <T x={643} y={682.7} s="-240 ˚/s" size={15} bold color="#8030d0" />

      <Bar x={451} y={703} w={236} h={40} bg="#be1418" s="Reach Direction (27.2%)" />
      <Bar x={733} y={703} w={236} h={40} bg="#be1418" s="Reach Direction" />
      <Bar x={451} y={933} w={238} h={39} bg="#1560a8" s="Target Velocity (3%)" />
      <Bar x={733} y={933} w={238} h={39} bg="#1560a8" s="Target Velocity" />
      <Bar x={451} y={1228} w={222} h={40} bg="#7060a8" s="Interaction (11.9%)" />
      <Bar x={733} y={1228} w={222} h={40} bg="#7060a8" s="Interaction" />

      {reachTicks.map((t, i) => <T key={"r" + i} x={mx(t[1])} y={630 + t[2] / 3} s={t[0]} size={14.5} color="#444" />)}
      {targetTicks.map((t, i) => <T key={"t" + i} x={mx(t[1])} y={930 + t[2] / 3} s={t[0]} size={14.5} color="#444" />)}
      {interTicks.map((t, i) => <T key={"n" + i} x={mx(t[1])} y={1225 + t[2] / 3} s={t[0]} size={14} color="#444" />)}

      <T x={447.7} y={796.7} s="#5" size={22} bold />
      <T x={450.6} y={824} s="(a.u.)" size={22} bold />
      <T x={690.4} y={818} s="#3" size={22} bold />
      <T x={557} y={922.7} s="#4" size={22} bold />
      <T x={441} y={1062} s="#17" size={22} bold />
      <T x={444} y={1090} s="(a.u.)" size={22} bold />
      <T x={478} y={1193} s="#15" size={22} bold />
      <T x={615} y={1206} s="#10" size={22} bold />
      <T x={441} y={1345} s="#12" size={22} bold />
      <T x={444} y={1374} s="(a.u.)" size={22} bold />
      <T x={525} y={1484} s="#11" size={22} bold />
      <T x={673} y={1466} s="#6" size={22} bold />
    </div>
  );
}
